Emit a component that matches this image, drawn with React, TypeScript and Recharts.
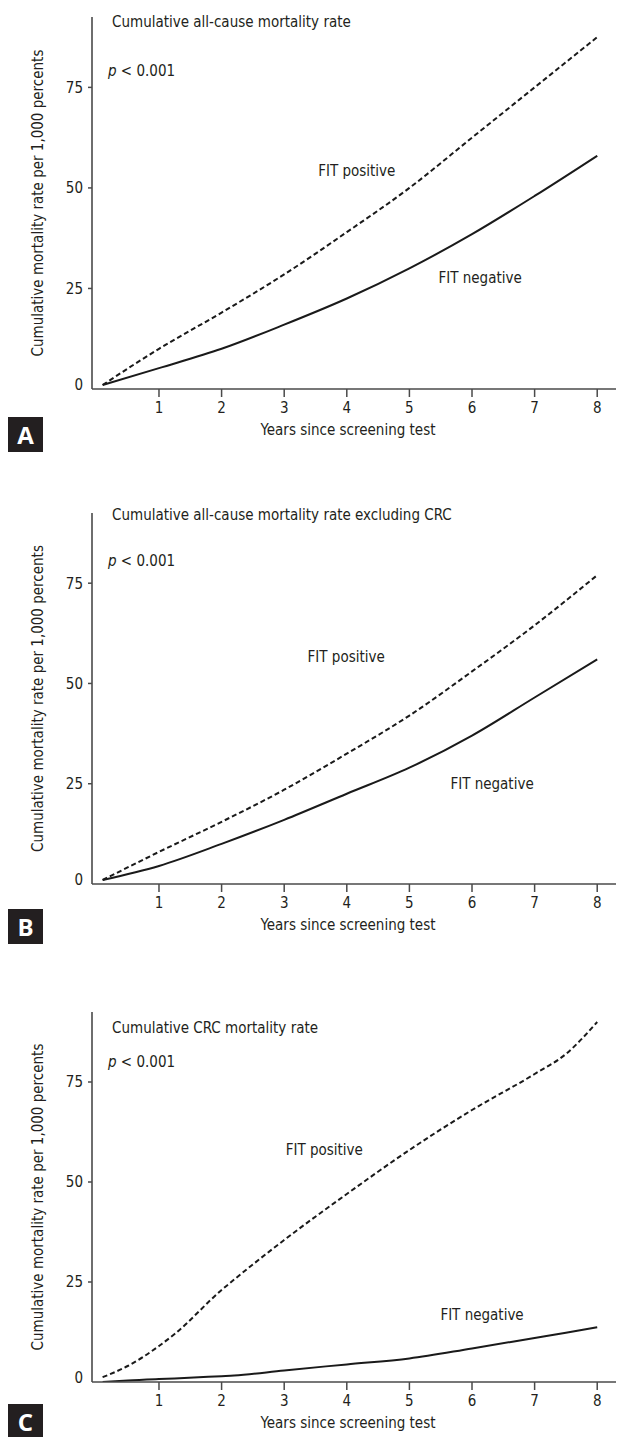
import React from 'react';
import { LineChart, Line, XAxis, YAxis, ReferenceDot } from 'recharts';

const FONT = "'Liberation Sans Narrow', 'DejaVu Sans Condensed', 'Roboto Condensed', 'Liberation Sans', sans-serif";
const INK = '#231f20';
const AXIS = '#4a4a4a';

const yearTicks = [1, 2, 3, 4, 5, 6, 7, 8];
const rateTicks = [0, 25, 50, 75];
const yearDomain: [number, number] = [-0.07, 8.3];
const rateDomain: [number, number] = [0, 92.5];

const xAxisTitle = 'Years since screening test';
const yAxisTitle = 'Cumulative mortality rate per 1,000 percents';
const posName = 'FIT positive';
const negName = 'FIT negative';

// Panel A: all-cause mortality
const yearsA = [0.1, 1, 2, 3, 4, 5, 6, 7, 8];
const fitPositiveA = [1, 10, 19, 28.5, 39, 50, 62.5, 75, 87.5];
const fitNegativeA = [1, 5.2, 10, 16, 22.5, 30, 38.5, 48, 58];

// Panel B: all-cause mortality excluding CRC
const yearsB = [0.1, 1, 2, 3, 4, 5, 6, 7, 8];
const fitPositiveB = [1, 8, 15.5, 23.5, 32.5, 42, 53, 64.5, 77];
const fitNegativeB = [1, 4.5, 10, 16, 22.5, 29, 37, 46.5, 56];

// Panel C: CRC mortality
const yearsC = [0.1, 0.5, 1, 1.25, 2, 2.2, 3, 4, 5, 6, 7, 7.5, 8];
const fitPositiveC = [1.2, 4, 9, 12, 23, 25.6, 35.5, 47, 58, 68, 77, 82, 90];
const fitNegativeC = [0, 0.4, 0.75, 0.9, 1.45, 1.6, 2.9, 4.4, 5.9, 8.4, 11, 12.3, 13.7];

type PanelProps = {
  plotTop: number;
  plotHeight: number;
  years: number[];
  pos: number[];
  neg: number[];
  title: string;
  titleY: number;
  pY: number;
  letter: string;
  letterTop: number;
  posAt: [number, number];
  negAt: [number, number];
};

const YTick = (props: any) => {
  const { x, y, payload } = props;
  const v = payload.value;
  return (
    <g>
      {v !== 0 && <line x1={x + 5} x2={x + 9} y1={y} y2={y} stroke={AXIS} strokeWidth={1.5} />}
      <text x={x} y={v === 0 ? y - 4 : y} dy="0.36em" textAnchor="end" fill={INK} fontSize={15} fontFamily={FONT}>
        {v}
      </text>
    </g>
  );
};

function Panel(p: PanelProps) {
  const data = p.years.map((yr, i) => ({ year: yr, pos: p.pos[i], neg: p.neg[i] }));
  const mTop = 17;
  const xAxisH = 50;
  const mBottom = 6;
  const height = mTop + p.plotHeight + xAxisH + mBottom;
  const chartTop = p.plotTop - mTop;
  return (
    <>
      <div style={{ position: 'absolute', left: 0, top: chartTop, width: 623, height }}>
        <LineChart width={623} height={height} data={data} margin={{ top: mTop, right: 7, bottom: mBottom, left: 32 }}>
          <XAxis
            dataKey="year"
            type="number"
            domain={yearDomain}
            ticks={yearTicks}
            allowDataOverflow
            height={xAxisH}
            axisLine={{ stroke: AXIS, strokeWidth: 1.6 }}
            tickLine={{ stroke: AXIS, strokeWidth: 1.5 }}
            tickSize={8}
            tickMargin={5}
            tick={{ fill: INK, fontSize: 15, fontFamily: FONT }}
            label={{
              content: (lp: any) => {
                const vb = lp.viewBox;
                return (
                  <text x={vb.x + vb.width / 2 - 6} y={vb.y + 41} textAnchor="middle" dominantBaseline="central" fill={INK} fontSize={15} fontFamily={FONT}>
                    {xAxisTitle}
                  </text>
                );
              },
            }}
          />
          <YAxis
            type="number"
            domain={rateDomain}
            ticks={rateTicks}
            allowDataOverflow
            width={60}
            axisLine={{ stroke: AXIS, strokeWidth: 1.6 }}
            tickLine={false}
            tickSize={4}
            tickMargin={5}
            tick={<YTick />}
            label={{
              content: (lp: any) => {
                const vb = lp.viewBox;
                const cx = 38;
                const cy = vb.y + vb.height / 2;
                return (
                  <text x={cx} y={cy} transform={`rotate(-90, ${cx}, ${cy})`} textAnchor="middle" dominantBaseline="central" fill={INK} fontSize={15} fontFamily={FONT}>
                    {yAxisTitle}
                  </text>
                );
              },
            }}
          />
          <Line dataKey="pos" type="monotone" stroke="#1a1a1a" strokeWidth={2} strokeDasharray="5 3" dot={false} isAnimationActive={false} />
          <Line dataKey="neg" type="monotone" stroke="#1a1a1a" strokeWidth={2} dot={false} isAnimationActive={false} />
          <ReferenceDot x={p.posAt[0]} y={p.posAt[1]} r={1} fill="none" stroke="none" ifOverflow="visible"
            label={{ value: posName, position: 'center', fill: INK, fontSize: 15, fontFamily: FONT }} />
          <ReferenceDot x={p.negAt[0]} y={p.negAt[1]} r={1} fill="none" stroke="none" ifOverflow="visible"
            label={{ value: negName, position: 'center', fill: INK, fontSize: 15, fontFamily: FONT }} />
        </LineChart>
      </div>
      <svg style={{ position: 'absolute', left: 0, top: 0, overflow: 'visible' }} width={623} height={1}>
        <text x={112} y={p.titleY} dominantBaseline="central" fill={INK} fontSize={15} fontFamily={FONT}>
          {p.title}
        </text>
        <text x={108} y={p.pY} dominantBaseline="central" fill={INK} fontSize={15} fontFamily={FONT}>
          <tspan fontStyle="italic">p</tspan>
          {' < 0.001'}
        </text>
      </svg>
      <div
        style={{
          position: 'absolute',
          left: 8,
          top: p.letterTop,
          width: 35,
          height: 35,
          background: INK,
          color: '#fff',
          fontFamily: "'Open Sans', 'Liberation Sans', sans-serif",
          fontWeight: 700,
          fontSize: 24,
          lineHeight: '35px',
          textAlign: 'center',
        }}
      >
        {p.letter}
      </div>
    </>
  );
}

export default function App() {
  return (
    <div style={{ position: 'absolute', left: 0, top: 0, width: 623, height: 1437, background: '#fff', overflow: 'hidden' }}>
      <Panel
        plotTop={17}
        plotHeight={372}
        years={yearsA}
        pos={fitPositiveA}
        neg={fitNegativeA}
        title="Cumulative all-cause mortality rate"
        titleY={22}
        pY={71}
        letter="A"
        letterTop={417}
        posAt={[4.16, 54.2]}
        negAt={[6.13, 27.6]}
      />
      <Panel
        plotTop={513}
        plotHeight={371}
        years={yearsB}
        pos={fitPositiveB}
        neg={fitNegativeB}
        title="Cumulative all-cause mortality rate excluding CRC"
        titleY={515}
        pY={561}
        letter="B"
        letterTop={909}
        posAt={[3.99, 56.6]}
        negAt={[6.32, 24.9]}
      />
      <Panel
        plotTop={1012}
        plotHeight={370}
        years={yearsC}
        pos={fitPositiveC}
        neg={fitNegativeC}
        title="Cumulative CRC mortality rate"
        titleY={1028}
        pY={1062}
        letter="C"
        letterTop={1404}
        posAt={[3.64, 58]}
        negAt={[6.16, 16.75]}
      />
    </div>
  );
}
